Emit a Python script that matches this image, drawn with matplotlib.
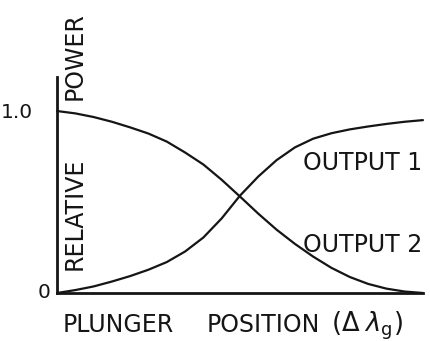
import numpy as np
import matplotlib.pyplot as plt

# plunger position (arbitrary units, 0..10) and relative power
position = [0, 0.5, 1, 1.5, 2, 2.5, 3, 3.5, 4, 4.5, 5, 5.5, 6, 6.5, 7, 7.5, 8, 8.5, 9, 9.5, 10]
output_1 = [0, 0.016, 0.036, 0.063, 0.093, 0.128, 0.17, 0.228, 0.305, 0.41, 0.535,
            0.64, 0.73, 0.80, 0.848, 0.878, 0.899, 0.915, 0.929, 0.941, 0.95]
output_2 = [1.0, 0.987, 0.967, 0.941, 0.91, 0.876, 0.832, 0.772, 0.706, 0.622, 0.53,
            0.436, 0.348, 0.27, 0.20, 0.138, 0.088, 0.05, 0.024, 0.008, 0]
y_ticks = [0, 1.0]
y_tick_labels = ["0", "1.0"]

fig = plt.figure(figsize=(4.31, 3.41), dpi=100)
ax = fig.add_axes([0.1323, 0.1408, 0.849, 0.6334])

ink = "#151515"
ax.plot(position, output_1, color=ink, lw=1.6, solid_capstyle="round", solid_joinstyle="round", clip_on=False)
ax.plot(position, output_2, color=ink, lw=1.6, solid_capstyle="round", solid_joinstyle="round", clip_on=False)

ax.set_xlim(0, 10)
ax.set_ylim(0, 1.187)
for s in ["top", "right"]:
    ax.spines[s].set_visible(False)
for s in ["left", "bottom"]:
    ax.spines[s].set_linewidth(2)
    ax.spines[s].set_color(ink)
ax.set_xticks([])
ax.set_yticks([])

# tick labels
ax.text(-0.065, y_ticks[1] - 0.01, y_tick_labels[1], transform=ax.get_yaxis_transform(),
        ha="right", va="center", fontsize=14.5, color=ink)
ax.text(-0.019, y_ticks[0], y_tick_labels[0], transform=ax.get_yaxis_transform(),
        ha="right", va="center", fontsize=14.5, color=ink)

# axis labels (hand lettered, spread out)
ax.text(0.049, 0.368, "RELATIVE", transform=ax.transAxes, rotation=90,
        ha="center", va="center", fontsize=17, color=ink)
ax.text(0.049, 1.095, "POWER", transform=ax.transAxes, rotation=90,
        ha="center", va="center", fontsize=17, color=ink)
ax.text(0.016, -0.1806, "PLUNGER", transform=ax.transAxes,
        ha="left", va="baseline", fontsize=17, color=ink)
ax.text(0.41, -0.1806, "POSITION", transform=ax.transAxes,
        ha="left", va="baseline", fontsize=17, color=ink)
ax.text(0.75, -0.1806, r"($\Delta\;\lambda_\mathrm{g}$)", transform=ax.transAxes,
        ha="left", va="baseline", fontsize=18.5, color=ink)

ax.text(6.72, 0.676, "OUTPUT 1", ha="left", va="baseline", fontsize=17, color=ink)
ax.text(6.72, 0.225, "OUTPUT 2", ha="left", va="baseline", fontsize=17, color=ink)

fig.savefig("out.png", dpi=100)
